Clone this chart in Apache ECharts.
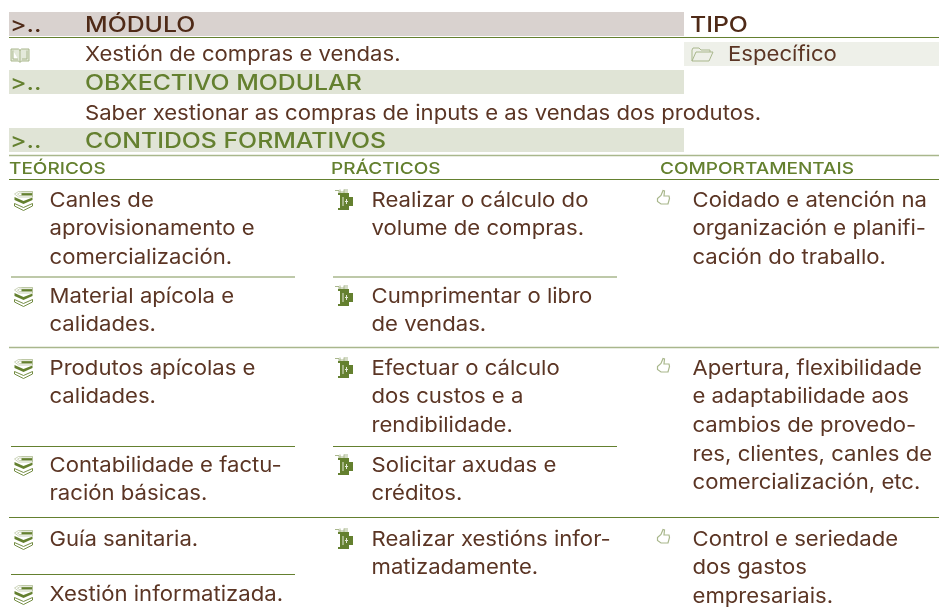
<!DOCTYPE html>
<html>
<head>
<meta charset="utf-8">
<style>html,body{margin:0;background:#fff}#main{width:939px;height:609px}</style>
<script src="https://cdn.jsdelivr.net/npm/echarts@6/dist/echarts.min.js"></script>
</head>
<body>
<div id="main"></div>
<script>
const moduleTitle = 'MÓDULO'
const moduleName = 'Xestión de compras e vendas.'
const typeTitle = 'TIPO'
const typeName = 'Específico'
const objectiveTitle = 'OBXECTIVO MODULAR'
const objectiveText = 'Saber xestionar as compras de inputs e as vendas dos produtos.'
const contentsTitle = 'CONTIDOS FORMATIVOS'
const columnTitles = ['TEÓRICOS', 'PRÁCTICOS', 'COMPORTAMENTAIS']

const teoricos = [
  ['Canles de', 'aprovisionamento e', 'comercialización.'],
  ['Material apícola e', 'calidades.'],
  ['Produtos apícolas e', 'calidades.'],
  ['Contabilidade e factu-', 'ración básicas.'],
  ['Guía sanitaria.'],
  ['Xestión informatizada.']
]
const practicos = [
  ['Realizar o cálculo do', 'volume de compras.'],
  ['Cumprimentar o libro', 'de vendas.'],
  ['Efectuar o cálculo', 'dos custos e a', 'rendibilidade.'],
  ['Solicitar axudas e', 'créditos.'],
  ['Realizar xestións infor-', 'matizadamente.']
]
const comportamentais = [
  ['Coidado e atención na', 'organización e planifi-', 'cación do traballo.'],
  ['Apertura, flexibilidade', 'e adaptabilidade aos', 'cambios de provedo-', 'res, clientes, canles de', 'comercialización, etc.'],
  ['Control e seriedade', 'dos gastos', 'empresariais.']
]

const FONT = 'Inter, sans-serif'
const BROWN = '#5b3524'
const DARK = '#4f2a17'
const GREEN = '#64802f'
const SOFT = '#a9b78c'
const LINE_H = 28.7

const itemTops = {
  teoricos: [207, 303, 375, 472, 546, 601],
  practicos: [207, 303, 375, 472, 546],
  comportamentais: [207, 375, 546]
}

// icons, local coordinates
const iconPaths = {
  booksTop: 'M8 0.5H19V6H8Z',
  booksPage: 'M1 3L5 0.5H19V2H6L4 3.2L6 4.5H19V6H5Z',
  booksMid: 'M1 6L10 10L19 6.5V9L10 13L1 9Z',
  booksLow: 'M1 12.5L10 16.5L19 12.5V15L10 19.5L1 15Z',
  jar: 'M3 4H14V8H18V17H14V21H3V19H5V6H3Z',
  jarMark: 'M8 8V17M11.5 10V15M10 12.5H13',
  jarTop: 'M0 1.5H4M3 3H13M9 1H13M5 0.5V4M9 0.5V4',
  thumb: 'M0.5 8.5L4 5.5L6 0.5L7.5 1L7 6H12L12.5 8.5L11 14H4L0.5 11.5Z',
  book: 'M1 2H8.5Q10 2.5 10 4Q10 2.5 11.5 2H19V14H11.5L10 15.5L8.5 14H1ZM10 4V15M3 3.5V12H8M17 3.5V12H12',
  folder: 'M1 14V3L2 1H8L10 3H19V5M1 14L5 5H22L18 14Z'
}
Object.keys(iconPaths).forEach(k => {
  echarts.graphic.registerShape('ic_' + k, echarts.graphic.extendPath(iconPaths[k], {}))
})

const measure = document.createElement('canvas').getContext('2d')
const widthOf = (text, font) => {
  measure.font = font
  return measure.measureText(text).width
}
const bodyFont = 'normal 20.5px ' + FONT
const headFont = '500 21px ' + FONT
const subFont = '500 16.5px ' + FONT
const bodyStretch = 676 / widthOf(objectiveText, bodyFont)
const headStretch = 301 / widthOf(contentsTitle, headFont)
const subStretch = 194 / widthOf(columnTitles[2], subFont)

const g = []
const rect = (x, y, w, h, fill) => g.push({ type: 'rect', shape: { x, y, width: w, height: h }, style: { fill }, silent: true })
const rule = (x1, x2, y, stroke, lineWidth) => g.push({ type: 'line', shape: { x1, y1: y, x2, y2: y }, style: { stroke, lineWidth }, silent: true })
const label = (text, x, base, font, fill, stretch) => g.push({
  type: 'text', x, y: base, scaleX: stretch, silent: true, z: 5,
  style: { text, x: 0, y: 0, fill, font, textVerticalAlign: 'middle' }
})
const icon = (name, x, y, opt) => g.push({ type: 'ic_' + name, x, y, style: opt, silent: true, z: 4 })

const head = (text, x, base, fill) => label(text, x, base - 6.6, headFont, fill, headStretch)
const sub = (text, x, base) => label(text, x, base - 5.4, subFont, GREEN, subStretch)
const body = (text, x, base) => label(text, x, base - 6.5, bodyFont, BROWN, bodyStretch)

rect(9, 12, 675, 24, '#d9d2cf')
rect(9, 70, 675, 24, '#e0e4d6')
rect(9, 128, 675, 24, '#e0e4d6')
rect(684, 42, 255, 24, '#eef0e9')

rule(9, 939, 37.5, GREEN, 1)
rule(9, 939, 155.5, SOFT, 1.5)
rule(9, 939, 179.5, GREEN, 1)
rule(11, 295, 277, SOFT, 1.5)
rule(333, 617, 277, SOFT, 1.5)
rule(9, 939, 347.5, SOFT, 1.5)
rule(11, 295, 446.5, GREEN, 1)
rule(333, 617, 446.5, GREEN, 1)
rule(9, 939, 517.5, GREEN, 1)
rule(11, 295, 574.5, GREEN, 1)

head('>..', 10, 32, DARK)
head(moduleTitle, 85, 32, DARK)
head(typeTitle, 690, 32, DARK)
body(moduleName, 85, 61)
body(typeName, 728, 61)
head('>..', 10, 90.5, GREEN)
head(objectiveTitle, 85, 90.5, GREEN)
body(objectiveText, 85, 120)
head('>..', 10, 148, GREEN)
head(contentsTitle, 85, 148, GREEN)
sub(columnTitles[0], 9, 174)
sub(columnTitles[1], 331, 174)
sub(columnTitles[2], 660, 174)

icon('book', 10, 47, { fill: '#e4e9da', stroke: SOFT, lineWidth: 1 })
icon('folder', 691, 47, { fill: 'none', stroke: SOFT, lineWidth: 1 })

const drawItems = (items, tops, textX, iconFn) => {
  items.forEach((lines, i) => {
    iconFn(tops[i])
    lines.forEach((line, j) => body(line, textX, tops[i] + j * LINE_H))
  })
}

drawItems(teoricos, itemTops.teoricos, 49.5, base => {
  icon('booksTop', 13.5, base - 16, { fill: GREEN })
  icon('booksPage', 13.5, base - 16, { fill: '#fff', stroke: SOFT, lineWidth: 0.6 })
  icon('booksMid', 13.5, base - 16, { fill: GREEN })
  icon('booksLow', 13.5, base - 16, { fill: '#fff', stroke: GREEN, lineWidth: 0.9 })
})
drawItems(practicos, itemTops.practicos, 371.5, base => {
  icon('jar', 335, base - 18, { fill: GREEN })
  icon('jarMark', 335, base - 18, { fill: 'none', stroke: '#e4e9da', lineWidth: 1 })
  icon('jarTop', 335, base - 18, { fill: 'none', stroke: SOFT, lineWidth: 1 })
})
drawItems(comportamentais, itemTops.comportamentais, 692.5, base => {
  icon('thumb', 657, base - 17, { fill: '#fff', stroke: SOFT, lineWidth: 1.2 })
})

const c = echarts.init(document.getElementById('main'), null, { renderer: 'canvas' })
c.setOption({
  backgroundColor: '#fff',
  animation: false,
  graphic: { elements: g }
})
</script>
</body>
</html>
